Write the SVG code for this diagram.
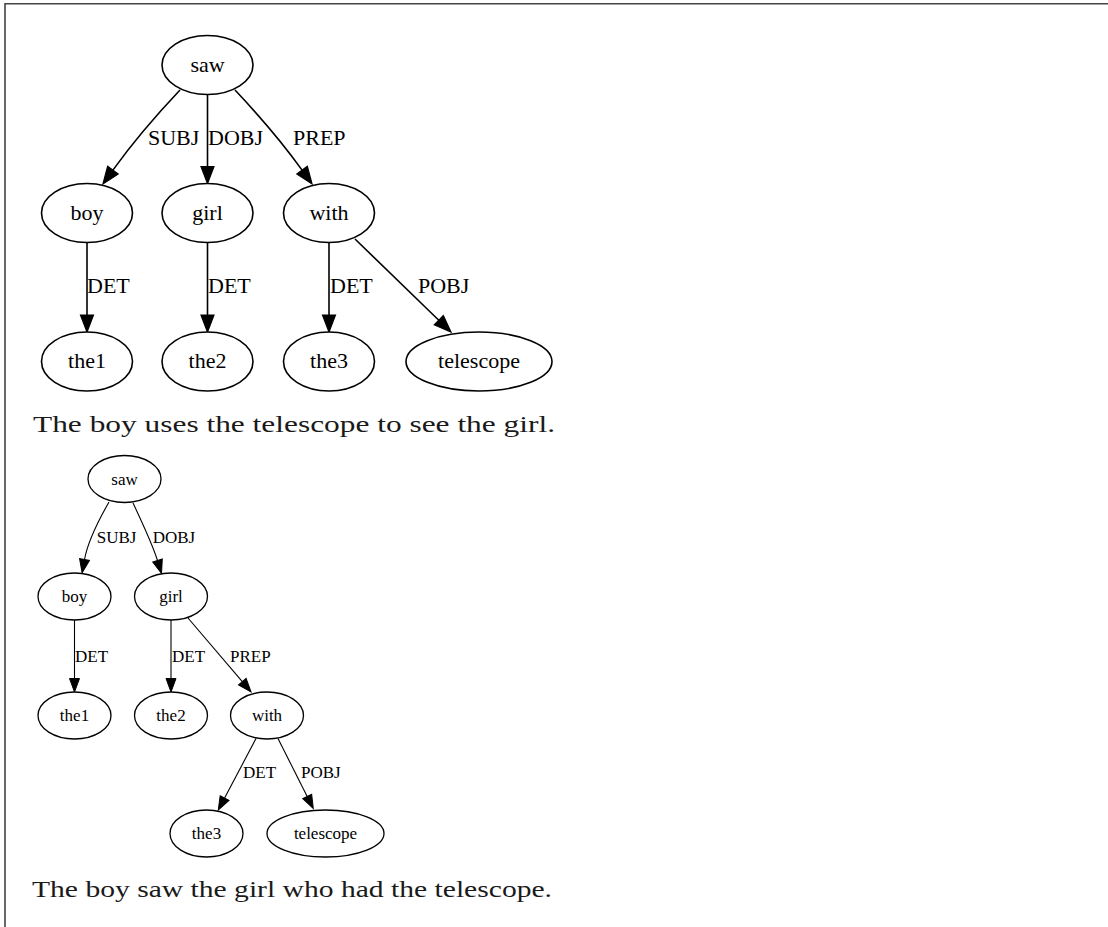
<svg xmlns="http://www.w3.org/2000/svg" width="1108" height="927" viewBox="0 0 1108 927">
<style>
.n{fill:#fff;stroke:#000;stroke-width:1.6}
.ns{fill:#fff;stroke:#000;stroke-width:1.3}
.e{fill:none;stroke:#000;stroke-width:1.6}
.es{fill:none;stroke:#000;stroke-width:1.1}
.t{font-family:"Liberation Serif","Times New Roman",serif;font-size:22px;fill:#000}
.ts{font-family:"Liberation Serif","Times New Roman",serif;font-size:17px;fill:#000}
.c{text-anchor:middle}
.cap{font-family:"Liberation Serif","Times New Roman",serif;font-size:24px;fill:#1a1a1a}
</style>
<defs>
<marker id="ab" markerUnits="userSpaceOnUse" markerWidth="20" markerHeight="16" refX="0" refY="6.5" orient="auto" overflow="visible">
<path d="M0,0 L17,6.5 L0,13 Z" fill="#000" stroke="#000" stroke-width="1.2"/>
</marker>
<marker id="as" markerUnits="userSpaceOnUse" markerWidth="16" markerHeight="12" refX="0" refY="5" orient="auto" overflow="visible">
<path d="M0,0 L13.5,5 L0,10 Z" fill="#000" stroke="#000" stroke-width="1"/>
</marker>
</defs>
<rect width="1108" height="927" fill="#fff"/>
<g id="frame" stroke="#444" stroke-width="1.6" fill="none">
<path d="M5,927 L5,3.8 L1108,3.8"/>
</g>

<g id="connectors">
<path class="e" d="M180,90 C163,108 136,138 112.9,170.1" marker-end="url(#ab)"/>
<path class="e" d="M207.5,94.5 L207.5,166.5" marker-end="url(#ab)"/>
<path class="e" d="M235,90 C252,108 279,138 302.1,170.1" marker-end="url(#ab)"/>
<path class="e" d="M87,242.5 L87,315" marker-end="url(#ab)"/>
<path class="e" d="M207.5,242.5 L207.5,315" marker-end="url(#ab)"/>
<path class="e" d="M329,242.5 L329,315" marker-end="url(#ab)"/>
<path class="e" d="M355,239 L438.8,320.2" marker-end="url(#ab)"/>
<text class="t" x="148" y="145">SUBJ</text>
<text class="t" x="208" y="145">DOBJ</text>
<text class="t" x="293" y="145">PREP</text>
<text class="t" x="87" y="293">DET</text>
<text class="t" x="208" y="293">DET</text>
<text class="t" x="330" y="293">DET</text>
<text class="t" x="418" y="293">POBJ</text>

<path class="es" d="M109,502 C101,516 88,540 84.5,559.5" marker-end="url(#as)"/>
<path class="es" d="M133,503 C140,518 152,543 157.5,560.5" marker-end="url(#as)"/>
<path class="es" d="M74.5,620 L74.5,678.5" marker-end="url(#as)"/>
<path class="es" d="M171,620 L171,678.5" marker-end="url(#as)"/>
<path class="es" d="M188,618 L242.3,681.7" marker-end="url(#as)"/>
<path class="es" d="M256,738.5 L224.6,798.1" marker-end="url(#as)"/>
<path class="es" d="M278,738.5 L307.2,796.5" marker-end="url(#as)"/>
<text class="ts" x="96.7" y="543">SUBJ</text>
<text class="ts" x="152.7" y="543">DOBJ</text>
<text class="ts" x="75" y="662">DET</text>
<text class="ts" x="172" y="662">DET</text>
<text class="ts" x="230" y="662">PREP</text>
<text class="ts" x="243" y="778">DET</text>
<text class="ts" x="301" y="778">POBJ</text>
</g>

<g id="t-saw"><ellipse class="n" cx="207.5" cy="65" rx="45.5" ry="29.5"/><text class="t c" x="207.5" y="71.5">saw</text></g>
<g id="t-boy"><ellipse class="n" cx="87" cy="213" rx="45.5" ry="29.5"/><text class="t c" x="87" y="219.5">boy</text></g>
<g id="t-girl"><ellipse class="n" cx="207.5" cy="213" rx="45.5" ry="29.5"/><text class="t c" x="207.5" y="219.5">girl</text></g>
<g id="t-with"><ellipse class="n" cx="329" cy="213" rx="45.5" ry="29.5"/><text class="t c" x="329" y="219.5">with</text></g>
<g id="t-the1"><ellipse class="n" cx="87" cy="361.5" rx="45.5" ry="29.5"/><text class="t c" x="87" y="368">the1</text></g>
<g id="t-the2"><ellipse class="n" cx="207.5" cy="361.5" rx="45.5" ry="29.5"/><text class="t c" x="207.5" y="368">the2</text></g>
<g id="t-the3"><ellipse class="n" cx="329" cy="361.5" rx="45.5" ry="29.5"/><text class="t c" x="329" y="368">the3</text></g>
<g id="t-telescope"><ellipse class="n" cx="479" cy="361.5" rx="73" ry="29.5"/><text class="t c" x="479" y="368">telescope</text></g>

<g id="caption1"><text class="cap" x="33" y="432" textLength="522" lengthAdjust="spacingAndGlyphs">The boy uses the telescope to see the girl.</text></g>

<g id="b-saw"><ellipse class="ns" cx="124.5" cy="479" rx="36.5" ry="23.5"/><text class="ts c" x="124.5" y="484.5">saw</text></g>
<g id="b-boy"><ellipse class="ns" cx="74.5" cy="596.5" rx="36.5" ry="23.5"/><text class="ts c" x="74.5" y="602">boy</text></g>
<g id="b-girl"><ellipse class="ns" cx="171" cy="596.5" rx="36.5" ry="23.5"/><text class="ts c" x="171" y="602">girl</text></g>
<g id="b-the1"><ellipse class="ns" cx="74.5" cy="715.5" rx="36.5" ry="23.5"/><text class="ts c" x="74.5" y="721">the1</text></g>
<g id="b-the2"><ellipse class="ns" cx="171" cy="715.5" rx="36.5" ry="23.5"/><text class="ts c" x="171" y="721">the2</text></g>
<g id="b-with"><ellipse class="ns" cx="267" cy="715.5" rx="36.5" ry="23.5"/><text class="ts c" x="267" y="721">with</text></g>
<g id="b-the3"><ellipse class="ns" cx="206.5" cy="833.5" rx="36.5" ry="23.5"/><text class="ts c" x="206.5" y="839">the3</text></g>
<g id="b-telescope"><ellipse class="ns" cx="325.5" cy="833.5" rx="58.5" ry="23.5"/><text class="ts c" x="325.5" y="839">telescope</text></g>

<g id="caption2"><text class="cap" x="32" y="897" textLength="520" lengthAdjust="spacingAndGlyphs">The boy saw the girl who had the telescope.</text></g>
</svg>
